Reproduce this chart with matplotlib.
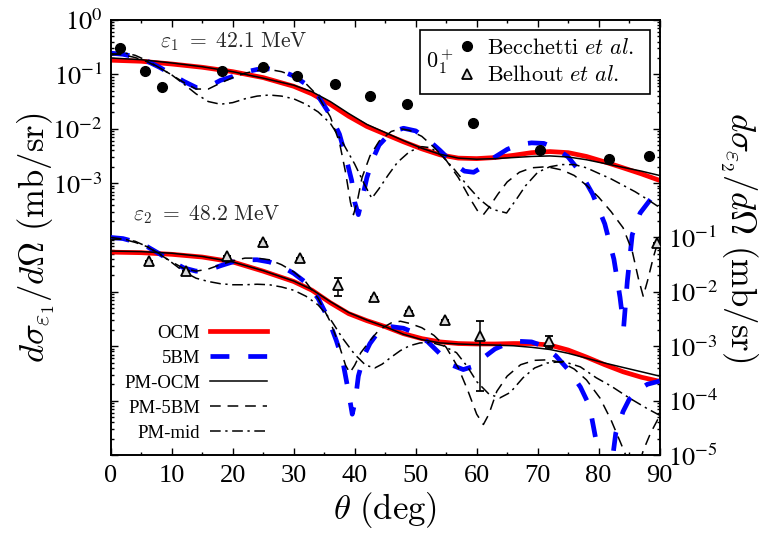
import numpy as np
import matplotlib
matplotlib.use('Agg')
import matplotlib.pyplot as plt
from matplotlib.ticker import LogLocator, FuncFormatter, NullFormatter, MultipleLocator
from matplotlib.patches import Rectangle
from matplotlib.font_manager import FontProperties

plt.rcParams['font.family'] = ['Liberation Serif', 'DejaVu Serif']
plt.rcParams['mathtext.fontset'] = 'stix'

# ---- eps1 = 42.1 MeV (left axis) ----
th_ocm = [0, 5, 10, 15, 20, 25, 30, 33, 36, 39, 42, 45, 48, 51, 54, 57, 60, 63, 66, 69,
          72, 75, 78, 81, 84, 87, 90]
ocm1 = [1.82e-1, 1.74e-1, 1.55e-1, 1.35e-1, 1.12e-1, 8.71e-2, 6.03e-2, 4.37e-2, 2.82e-2,
        1.70e-2, 1.10e-2, 7.94e-3, 5.75e-3, 4.27e-3, 3.31e-3, 2.88e-3, 2.82e-3, 2.95e-3,
        3.24e-3, 3.63e-3, 3.80e-3, 3.63e-3, 3.09e-3, 2.45e-3, 1.91e-3, 1.48e-3, 1.12e-3]
pmocm1 = [2.00e-1, 1.86e-1, 1.62e-1, 1.38e-1, 1.12e-1, 8.51e-2, 6.31e-2, 4.79e-2, 3.16e-2,
          1.91e-2, 1.20e-2, 8.51e-3, 6.03e-3, 4.37e-3, 3.39e-3, 2.88e-3, 2.75e-3, 2.82e-3,
          2.95e-3, 3.09e-3, 3.16e-3, 3.02e-3, 2.69e-3, 2.29e-3, 1.95e-3, 1.66e-3, 1.38e-3]

th_5bm1 = [0, 2, 4, 6, 8, 10, 12, 14, 16, 18, 20, 22, 24, 26, 28, 30, 32, 34, 36, 37.5,
           38.5, 39.5, 40, 40.6, 41.2, 42, 43, 44, 46, 48, 50, 52, 54, 56, 58, 59.5, 61,
           63, 65, 67, 69, 71, 73, 75, 77, 79, 81, 82.5, 83.5, 84.1, 84.7, 85.5, 86.8,
           88.5, 90]
bm1 = [2.45e-1, 2.34e-1, 2.09e-1, 1.74e-1, 1.35e-1, 1.00e-1, 7.41e-2, 5.75e-2, 5.89e-2,
       7.76e-2, 9.12e-2, 1.10e-1, 1.23e-1, 1.26e-1, 1.15e-1, 9.33e-2, 6.61e-2, 3.98e-2,
       1.78e-2, 7.94e-3, 3.16e-3, 1.12e-3, 4.47e-4, 2.63e-4, 5.01e-4, 1.26e-3, 2.82e-3,
       5.01e-3, 8.71e-3, 1.02e-2, 9.12e-3, 6.31e-3, 3.98e-3, 2.40e-3, 1.66e-3, 1.58e-3,
       2.00e-3, 3.02e-3, 4.17e-3, 5.13e-3, 5.50e-3, 5.37e-3, 4.37e-3, 3.02e-3, 1.58e-3,
       6.31e-4, 1.78e-4, 3.98e-5, 7.94e-6, 2.24e-6, 1.58e-5, 1.12e-4, 2.82e-4, 5.01e-4,
       7.08e-4]

th_pm5bm1 = [0, 2, 4, 6, 8, 10, 12, 14, 16, 18, 20, 22, 24, 26, 28, 30, 32, 34, 36, 37.5,
             38.5, 39.3, 39.8, 40.4, 41.2, 42.5, 44, 46, 47.5, 49, 51, 53, 55, 57, 59,
             60.2, 61.1, 62, 63.5, 65, 67, 69, 71.5, 74, 76, 78, 80, 82, 84, 85.5, 86.5,
             87.3, 88, 89, 90]
pm5bm1 = [2.40e-1, 2.29e-1, 2.04e-1, 1.70e-1, 1.32e-1, 9.77e-2, 7.08e-2, 5.37e-2, 5.37e-2,
          6.92e-2, 8.71e-2, 1.05e-1, 1.17e-1, 1.23e-1, 1.12e-1, 9.33e-2, 6.76e-2, 3.98e-2,
          1.66e-2, 5.62e-3, 1.58e-3, 4.47e-4, 2.63e-4, 4.47e-4, 1.26e-3, 3.16e-3, 5.89e-3,
          8.91e-3, 1.00e-2, 9.33e-3, 7.24e-3, 4.57e-3, 2.63e-3, 1.26e-3, 5.01e-4, 3.02e-4,
          2.63e-4, 3.55e-4, 6.31e-4, 1.05e-3, 1.58e-3, 1.91e-3, 2.00e-3, 1.74e-3, 1.38e-3,
          9.12e-4, 5.50e-4, 3.02e-4, 1.51e-4, 5.62e-5, 1.78e-5, 8.32e-6, 1.58e-5, 4.47e-5,
          1.05e-4]

th_pmmid1 = [0, 2, 4, 6, 8, 10, 12, 14, 16, 18, 20, 22, 24, 26, 28, 30, 32, 34, 36, 38, 40,
             41.5, 42.8, 44, 45.5, 47, 49, 51, 52.5, 54.5, 56.5, 58.5, 60.5, 62.5, 64.9,
             66.5, 68, 70, 72, 74, 76, 78, 80, 82, 84, 86, 88, 90]
pmmid1 = [2.24e-1, 2.51e-1, 2.24e-1, 1.78e-1, 1.32e-1, 9.77e-2, 6.61e-2, 4.37e-2, 3.16e-2,
          2.82e-2, 3.02e-2, 3.55e-2, 3.98e-2, 4.17e-2, 3.98e-2, 3.55e-2, 2.82e-2, 2.04e-2,
          1.26e-2, 5.62e-3, 2.24e-3, 1.00e-3, 5.25e-4, 7.94e-4, 1.41e-3, 2.40e-3, 3.80e-3,
          4.68e-3, 4.47e-3, 3.02e-3, 1.70e-3, 8.91e-4, 5.01e-4, 3.31e-4, 2.82e-4, 5.01e-4,
          8.91e-4, 1.58e-3, 2.00e-3, 2.19e-3, 2.19e-3, 1.91e-3, 1.51e-3, 1.20e-3, 9.12e-4,
          6.92e-4, 5.01e-4, 3.55e-4]

# ---- eps2 = 48.2 MeV (right axis) ----
ocm2 = [5.37e-2, 5.25e-2, 4.90e-2, 4.37e-2, 3.55e-2, 2.40e-2, 1.55e-2, 1.07e-2, 6.31e-3,
        3.98e-3, 2.95e-3, 2.29e-3, 1.70e-3, 1.38e-3, 1.20e-3, 1.12e-3, 1.10e-3, 1.10e-3,
        1.12e-3, 1.12e-3, 1.05e-3, 8.51e-4, 6.31e-4, 4.57e-4, 3.39e-4, 2.69e-4, 2.26e-4]
pmocm2 = [5.62e-2, 5.50e-2, 5.13e-2, 4.47e-2, 3.55e-2, 2.45e-2, 1.58e-2, 1.10e-2, 6.61e-3,
          4.17e-3, 3.02e-3, 2.29e-3, 1.66e-3, 1.32e-3, 1.15e-3, 1.10e-3, 1.07e-3, 1.05e-3,
          1.02e-3, 9.55e-4, 8.71e-4, 7.41e-4, 6.03e-4, 4.90e-4, 4.07e-4, 3.39e-4, 2.82e-4]

th_5bm2 = [0, 2, 4, 6, 8, 10, 12, 14, 16, 18, 20, 22, 24, 26, 28, 30, 32, 34, 35.5, 37, 38,
           39, 39.6, 40.1, 40.6, 41.5, 42.5, 44, 46, 48, 50, 52, 54, 56, 57.8, 59.5, 61, 63,
           65, 67, 69, 71, 73, 75, 77, 78.5, 79.6, 80.5, 81.2, 82, 82.8, 84, 85, 86.5, 88,
           90]
bm2 = [1.00e-1, 9.55e-2, 8.32e-2, 6.76e-2, 5.01e-2, 3.63e-2, 2.75e-2, 2.40e-2, 2.51e-2,
       3.02e-2, 3.55e-2, 3.89e-2, 3.89e-2, 3.55e-2, 2.95e-2, 2.19e-2, 1.48e-2, 7.59e-3,
       3.55e-3, 1.26e-3, 5.62e-4, 1.41e-4, 5.62e-5, 1.00e-4, 2.82e-4, 6.61e-4, 1.12e-3,
       1.91e-3, 2.29e-3, 2.14e-3, 1.74e-3, 1.20e-3, 7.24e-4, 4.47e-4, 3.72e-4, 4.27e-4,
       6.03e-4, 8.91e-4, 1.12e-3, 1.23e-3, 1.20e-3, 1.00e-3, 6.61e-4, 3.72e-4, 1.78e-4,
       7.94e-5, 1.78e-5, 2.51e-6, 1.00e-6, 5.01e-6, 2.51e-5, 6.31e-5, 1.05e-4, 1.58e-4,
       2.00e-4, 2.29e-4]

th_pm5bm2 = [0, 2, 4, 6, 8, 10, 12, 14, 16, 18, 20, 22, 24, 26, 28, 30, 32, 34, 36, 37.5,
             38.5, 39.2, 40, 41, 42.5, 44, 46, 47.5, 49, 51, 53, 55, 57, 58.5, 60, 61.1,
             62, 63.3, 65, 67.2, 69.5, 71.6, 74, 76, 78, 80.2, 82, 83.5, 84.5, 85.5, 86.3,
             87.3, 88.5, 90]
pm5bm2 = [1.00e-1, 9.33e-2, 8.13e-2, 6.76e-2, 4.90e-2, 3.55e-2, 2.69e-2, 2.40e-2, 2.63e-2,
          3.16e-2, 3.72e-2, 4.17e-2, 4.17e-2, 3.89e-2, 3.16e-2, 2.34e-2, 1.51e-2, 7.59e-3,
          2.82e-3, 1.00e-3, 4.47e-4, 3.24e-4, 4.47e-4, 7.59e-4, 1.26e-3, 2.00e-3, 2.69e-3,
          2.88e-3, 2.63e-3, 2.19e-3, 1.58e-3, 9.55e-4, 3.98e-4, 1.58e-4, 5.62e-5, 3.63e-5,
          5.62e-5, 1.48e-4, 2.82e-4, 4.57e-4, 5.50e-4, 5.62e-4, 5.01e-4, 3.80e-4, 2.40e-4,
          1.12e-4, 4.47e-5, 1.78e-5, 9.55e-6, 5.01e-6, 5.01e-6, 1.20e-5, 2.51e-5, 5.25e-5]

th_pmmid2 = [0, 2, 4, 6, 8, 10, 12, 14, 16, 18, 20, 22, 24, 26, 28, 30, 32, 34, 36, 38, 40,
             41.8, 43.3, 44.5, 46, 47.5, 49, 50.7, 52.5, 54.5, 56.7, 58.5, 60, 62, 63.8,
             65.5, 67.6, 69.5, 71.5, 74.2, 77, 79.6, 82, 85, 88, 90]
pmmid2 = [9.12e-2, 9.33e-2, 8.51e-2, 6.76e-2, 5.01e-2, 3.47e-2, 2.34e-2, 1.78e-2, 1.55e-2,
          1.41e-2, 1.35e-2, 1.35e-2, 1.38e-2, 1.35e-2, 1.23e-2, 1.07e-2, 8.32e-3, 5.75e-3,
          3.16e-3, 1.41e-3, 7.08e-4, 4.47e-4, 3.98e-4, 4.68e-4, 6.31e-4, 8.32e-4, 1.02e-3,
          1.15e-3, 1.17e-3, 1.02e-3, 7.59e-4, 4.17e-4, 2.24e-4, 1.32e-4, 1.12e-4, 1.41e-4,
          2.63e-4, 3.98e-4, 4.90e-4, 5.25e-4, 4.17e-4, 2.63e-4, 1.86e-4, 1.12e-4, 7.08e-5,
          5.37e-5]

# ---- experimental data ----
bec_th = [1.5, 5.6, 8.4, 18.2, 25.0, 30.6, 36.7, 42.5, 48.6, 59.4, 70.3, 81.7, 88.2]
bec_val = [0.30, 0.115, 0.059, 0.115, 0.134, 0.094, 0.066, 0.040, 0.029, 0.013, 0.0041,
           0.00275, 0.0032]

bel_th = [6.2, 12.3, 19.0, 25.0, 31.1, 37.3, 43.2, 48.95, 54.8, 60.5, 71.9, 89.5]
bel_val = [0.037, 0.0245, 0.046, 0.082, 0.042, 0.0135, 0.008, 0.0045, 0.0031, 0.00155,
           0.00126, 0.079]
bel_lo = [0, 0, 0, 0, 0, 0.005, 0, 0, 0, 0.0014, 0.00033, 0]
bel_hi = [0, 0, 0, 0, 0, 0.0043, 0, 0, 0, 0.00135, 0.00029, 0]


fig = plt.figure(figsize=(7.62, 5.34), dpi=100)
ax = fig.add_axes([0.1453, 0.148, 0.7204, 0.8146])
ax2 = ax.twinx()

dash5 = (0, (4, 4))
dashpm = (0, (7, 4.5))
dashdot = (0, (7, 3, 1.5, 3))


def draw(a, ocm, pmocm, t5, b5, tp5, p5, tpm, pm):
    h1, = a.plot(th_ocm, ocm, color='red', lw=3.4, label='OCM', zorder=2)
    h2, = a.plot(t5, b5, color='blue', lw=3.4, ls=dash5, label='5BM', zorder=3)
    h3, = a.plot(th_ocm, pmocm, color='k', lw=1.1, label='PM-OCM', zorder=4)
    h4, = a.plot(tp5, p5, color='k', lw=1.1, ls=dashpm, label='PM-5BM', zorder=4)
    h5, = a.plot(tpm, pm, color='k', lw=1.1, ls=dashdot, label='PM-mid', zorder=4)
    return [h1, h2, h3, h4, h5]


lines = draw(ax, ocm1, pmocm1, th_5bm1, bm1, th_pm5bm1, pm5bm1, th_pmmid1, pmmid1)
draw(ax2, ocm2, pmocm2, th_5bm2, bm2, th_pm5bm2, pm5bm2, th_pmmid2, pmmid2)

hb, = ax.plot(bec_th, bec_val, 'o', color='k', ms=7, ls='none', zorder=5)
eb = ax2.errorbar(bel_th, bel_val, yerr=[bel_lo, bel_hi], fmt='^', mfc='0.85', mec='k',
                  mew=1.3, ms=7, ecolor='k', elinewidth=1.1, capsize=3, capthick=1.1,
                  zorder=5)

ax.set_xlim(0, 90)
ax.set_yscale('log')
ax.set_ylim(1e-8, 1)
ax2.set_yscale('log')
ax2.set_ylim(1e-5, 1e3)


def fmt_left(v, pos):
    e = int(round(np.log10(v)))
    return r'$10^{%d}$' % e if -3 <= e <= 0 else ''


def fmt_right(v, pos):
    e = int(round(np.log10(v)))
    return r'$10^{%d}$' % e if -5 <= e <= -1 else ''


for a, f in ((ax, fmt_left), (ax2, fmt_right)):
    a.yaxis.set_major_locator(LogLocator(base=10, numticks=30))
    a.yaxis.set_minor_locator(LogLocator(base=10, subs=np.arange(2, 10), numticks=30))
    a.yaxis.set_major_formatter(FuncFormatter(f))
    a.yaxis.set_minor_formatter(NullFormatter())

ax.xaxis.set_major_locator(MultipleLocator(10))
ax.xaxis.set_minor_locator(MultipleLocator(5))

ax.tick_params(which='both', direction='in', top=True, right=False, labelsize=19, width=1)
ax.tick_params(which='major', length=5)
ax.tick_params(which='minor', length=2.5)
ax.tick_params(axis='y', pad=6)
ax.tick_params(axis='x', pad=7)
ax2.tick_params(which='both', direction='in', labelsize=19, width=1, pad=6)
ax2.tick_params(which='major', length=5)
ax2.tick_params(which='minor', length=2.5)
for a in (ax, ax2):
    for s in a.spines.values():
        s.set_linewidth(1.2)

ax.set_xlabel(r'$\theta\ (\mathrm{deg})$', fontsize=25, math_fontfamily='cm')
ax.xaxis.set_label_coords(0.5, -0.08)
ax.set_ylabel(r'$d\sigma_{\varepsilon_1}/d\Omega\ (\mathrm{mb/sr})$', fontsize=25,
              math_fontfamily='cm')
ax.yaxis.set_label_coords(-0.098, 0.5)
ax2.set_ylabel(r'$d\sigma_{\varepsilon_2}/d\Omega\ (\mathrm{mb/sr})$', fontsize=25,
               math_fontfamily='cm', rotation=270, va='bottom')
ax2.yaxis.set_label_coords(1.106, 0.5)

ax.text(0.0898, 0.949, r'$\varepsilon_1\ =\ 42.1\ \mathrm{MeV}$', transform=ax.transAxes,
        fontsize=15.5, math_fontfamily='cm', ha='left', va='center', color='0.15')
ax.text(0.0406, 0.552, r'$\varepsilon_2\ =\ 48.2\ \mathrm{MeV}$', transform=ax.transAxes,
        fontsize=15.5, math_fontfamily='cm', ha='left', va='center', color='0.15')

# data legend box
ax2.add_patch(Rectangle((0.5634, 0.830), 0.4189, 0.147, transform=ax2.transAxes,
                        facecolor='white', edgecolor='k', lw=1.2, zorder=6))
ax2.text(0.600, 0.903, r'$0_1^+$', transform=ax2.transAxes, fontsize=16,
         math_fontfamily='cm', ha='center', va='center', zorder=7)
leg1 = ax2.legend([hb, eb.lines[0]],
                  [r'$\mathrm{Becchetti}\ et\ al.$', r'$\mathrm{Belhout}\ et\ al.$'],
                  loc='center left', bbox_to_anchor=(0.600, 0.902), frameon=False,
                  prop=FontProperties(size=16, math_fontfamily='cm'), handlelength=1.0,
                  handletextpad=0.4, labelspacing=0.3, borderpad=0.2)
leg1.set_zorder(8)
ax2.add_artist(leg1)

leg2 = ax2.legend(lines, [l.get_label() for l in lines], loc='center',
                  bbox_to_anchor=(0.154, 0.1655), frameon=False, markerfirst=False,
                  fontsize=13.5, handlelength=3.0, handletextpad=0.55, labelspacing=0.42)

fig.savefig('out.png', dpi=100)
